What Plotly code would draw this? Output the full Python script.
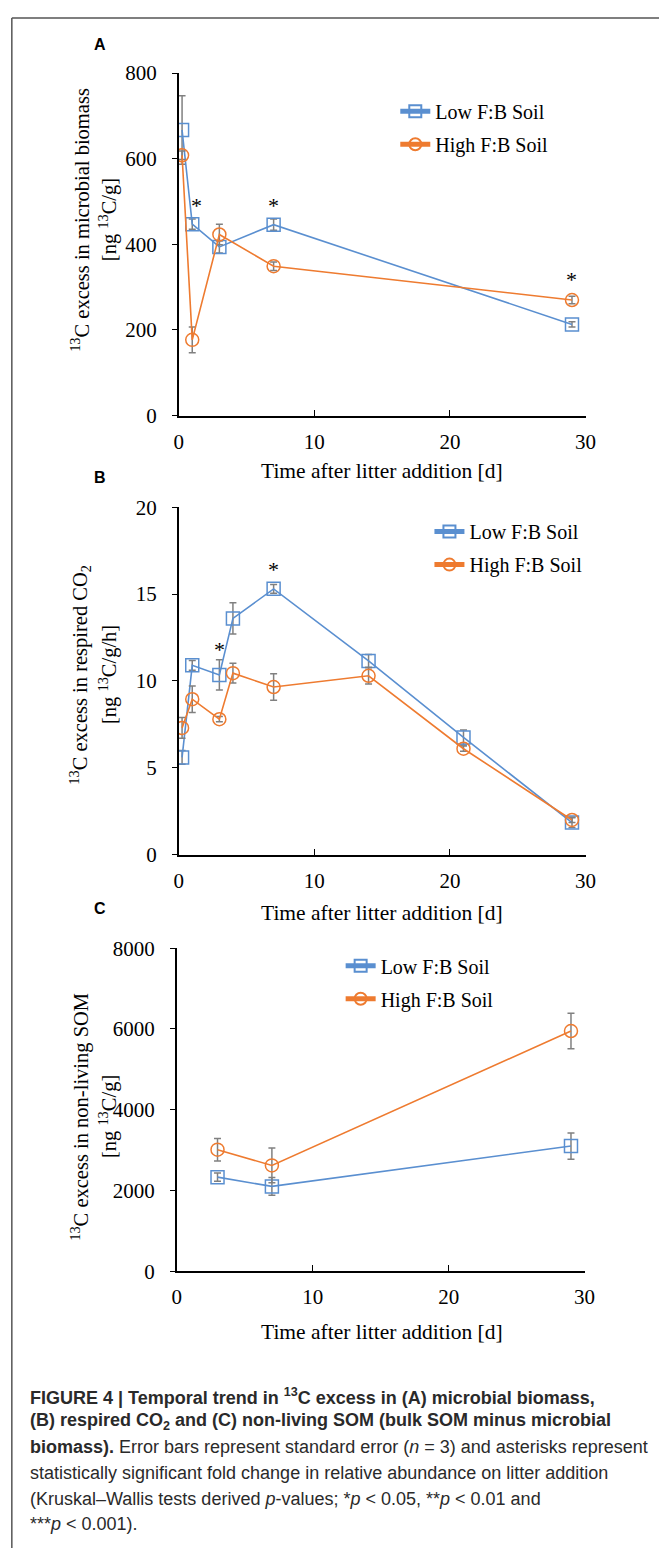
import plotly.graph_objects as go

W, H = 659, 1548

# ---------------- data ----------------
days_a = [0.25, 1, 3, 7, 29]
low_a = [667, 447, 394, 446, 213]
low_a_err = [80, 12, 14, 13, 6]
high_a = [608, 177, 423, 349, 270]
high_a_err = [10, 30, 24, 10, 9]
star_a_x = [1.3, 7, 29]
star_a_y = [491, 491, 319]

days_b = [0.25, 1, 3, 4, 7, 14, 21, 29]
low_b = [5.6, 10.9, 10.35, 13.6, 15.3, 11.15, 6.75, 1.85]
low_b_err = [0.4, 0.28, 0.87, 0.9, 0.25, 0.38, 0.43, 0.28]
high_b = [7.3, 8.95, 7.8, 10.45, 9.65, 10.3, 6.1, 2.0]
high_b_err = [0.6, 0.76, 0.15, 0.57, 0.76, 0.47, 0.15, 0.15]
star_b_x = [3, 7]
star_b_y = [11.8, 16.4]

days_c = [3, 7, 29]
low_c = [2330, 2100, 3100]
low_c_err = [100, 220, 325]
high_c = [3010, 2620, 5950]
high_c_err = [280, 430, 440]

x_ticks = [0, 10, 20, 30]
y_ticks_a = [0, 200, 400, 600, 800]
y_ticks_b = [0, 5, 10, 15, 20]
y_ticks_c = [0, 2000, 4000, 6000, 8000]

series_names = ["Low F:B Soil", "High F:B Soil"]
panel_labels = ["A", "B", "C"]
y_titles = [
    ("<sup>13</sup>C excess in microbial biomass", "[ng <sup>13</sup>C/g]"),
    ("<sup>13</sup>C excess in respired CO<sub>2</sub>", "[ng <sup>13</sup>C/g/h]"),
    ("<sup>13</sup>C excess in non-living SOM", "[ng <sup>13</sup>C/g]"),
]
x_title = "Time after litter addition [d]"

caption_lines = [
    "<b>FIGURE 4 | Temporal trend in <sup>13</sup>C excess in (A) microbial biomass,</b>",
    "<b>(B) respired CO<sub>2</sub> and (C) non-living SOM (bulk SOM minus microbial</b>",
    "<b>biomass).</b> Error bars represent standard error (<i>n</i> = 3) and asterisks represent",
    "statistically significant fold change in relative abundance on litter addition",
    "(Kruskal–Wallis tests derived <i>p</i>-values; *<i>p</i> &lt; 0.05, **<i>p</i> &lt; 0.01 and",
    "***<i>p</i> &lt; 0.001).",
]

# ---------------- styling ----------------
BLUE = "#5A8FD0"
ORANGE = "#EE7B30"
ERR = "#808080"
SERIF = "Liberation Serif, Times New Roman, serif"
SANS = "Liberation Sans, Arial, sans-serif"


def px_x(x):
    return x / W


def px_y(y):
    return 1 - y / H


# pixel geometry of each panel: (x_left, x_right, y_top, y_bottom)
geoms = [(178, 595, 62, 410), (178, 595, 503, 856), (176, 594, 951, 1279)]
label_pos = [(97, 33), (97, 473), (97, 911)]
xtitle_y = [466, 915, 1341]
ytitle_mid = [211, 673, 1122]
legend_pos = [(400, 81), (435, 508), (344, 949)]

panels = [
    (days_a, low_a, low_a_err, high_a, high_a_err, y_ticks_a, star_a_x, star_a_y),
    (days_b, low_b, low_b_err, high_b, high_b_err, y_ticks_b, star_b_x, star_b_y),
    (days_c, low_c, low_c_err, high_c, high_c_err, y_ticks_c, [], []),
]

fig = go.Figure()
annotations = []
layout_extra = {}

for i, (days, lo, lo_e, hi, hi_e, yt, sx, sy) in enumerate(panels):
    n = "" if i == 0 else str(i + 1)
    xa, ya = "x" + n, "y" + n
    leg = "legend" + n
    for j, (name, vals, errs, color, sym) in enumerate([
        (series_names[0], lo, lo_e, BLUE, "square-open"),
        (series_names[1], hi, hi_e, ORANGE, "circle-open"),
    ]):
        fig.add_trace(go.Scatter(
            x=days, y=vals, name=name, xaxis=xa, yaxis=ya, legend=leg,
            legendgroup="g%d_%d" % (i, j),
            mode="lines+markers",
            line=dict(color=color, width=1.6),
            marker=dict(symbol=sym, size=13, color=color, line=dict(width=1.5, color=color)),
            error_y=dict(type="data", array=errs, visible=True, color=ERR, thickness=1.5, width=3.5),
        ))
    gx0, gx1, gy0, gy1 = geoms[i]
    layout_extra["xaxis" + n] = dict(
        domain=[px_x(gx0), px_x(gx1)], anchor=ya, range=[0, 30], tickvals=x_ticks,
        ticks="inside", ticklen=6, tickwidth=1.3, tickcolor="black",
        showline=True, linecolor="black", linewidth=1.5, showgrid=False, zeroline=False,
        tickfont=dict(family=SERIF, size=21, color="black"), ticklabelstandoff=6,
    )
    layout_extra["yaxis" + n] = dict(
        domain=[px_y(gy1), px_y(gy0)], anchor=xa, range=[yt[0], yt[-1]], tickvals=yt,
        ticks="outside", ticklen=5, tickwidth=1.3, tickcolor="black",
        showline=True, linecolor="black", linewidth=1.5, showgrid=False, zeroline=False,
        tickfont=dict(family=SERIF, size=21, color="black"), ticklabelstandoff=11,
    )
    lx, ly = legend_pos[i]
    layout_extra[leg] = dict(
        x=px_x(lx), y=px_y(ly), xanchor="left", yanchor="top", xref="paper", yref="paper",
        bgcolor="rgba(0,0,0,0)", font=dict(family=SERIF, size=20, color="black"),
        tracegroupgap=4, itemsizing="constant",
    )
    # asterisks
    for x_, y_ in zip(sx, sy):
        annotations.append(dict(
            x=x_, y=y_, xref=xa, yref=ya, text="*", showarrow=False,
            xanchor="center", yanchor="middle",
            font=dict(family=SERIF, size=22, color="black"), yshift=0,
        ))
    # panel label
    plx, ply = label_pos[i]
    annotations.append(dict(
        x=px_x(plx), y=px_y(ply), xref="paper", yref="paper", text="<b>%s</b>" % panel_labels[i],
        xanchor="center", yanchor="middle",
        showarrow=False, font=dict(family=SANS, size=16, color="black"),
    ))
    # y titles
    ymid = px_y(ytitle_mid[i])
    for txt, xpx in zip(y_titles[i], [77, 106]):
        annotations.append(dict(
            x=px_x(xpx), y=ymid, xref="paper", yref="paper", text=txt, textangle=-90,
            xanchor="center", yanchor="middle",
            showarrow=False, font=dict(family=SERIF, size=20.5, color="black"),
        ))
    # x title
    annotations.append(dict(
        x=px_x(386), y=px_y(xtitle_y[i]), xref="paper", yref="paper", text=x_title,
        xanchor="center", yanchor="middle",
        showarrow=False, font=dict(family=SERIF, size=21.5, color="black"),
    ))

# caption
for k, line in enumerate(caption_lines):
    annotations.append(dict(
        x=px_x(24), y=px_y(1406 + 26 * k), xref="paper", yref="paper", text=line,
        xanchor="left", yanchor="middle", showarrow=False, align="left",
        font=dict(family=SANS, size=18, color="#2a2a2a"),
    ))

shapes = [
    dict(type="line", xref="paper", yref="paper", x0=px_x(7), x1=px_x(700), y0=px_y(6), y1=px_y(6),
         line=dict(color="#555555", width=1.5)),
    dict(type="line", xref="paper", yref="paper", x0=px_x(7), x1=px_x(7), y0=px_y(6), y1=px_y(1600),
         line=dict(color="#555555", width=1.5)),
]

fig.update_layout(
    width=W, height=H, margin=dict(l=0, r=0, t=0, b=0),
    paper_bgcolor="white", plot_bgcolor="white", showlegend=True,
    annotations=annotations, shapes=shapes, **layout_extra,
)

fig.write_html("out.html", config={"displayModeBar": False},
               post_script="document.body.style.margin='0px';")
